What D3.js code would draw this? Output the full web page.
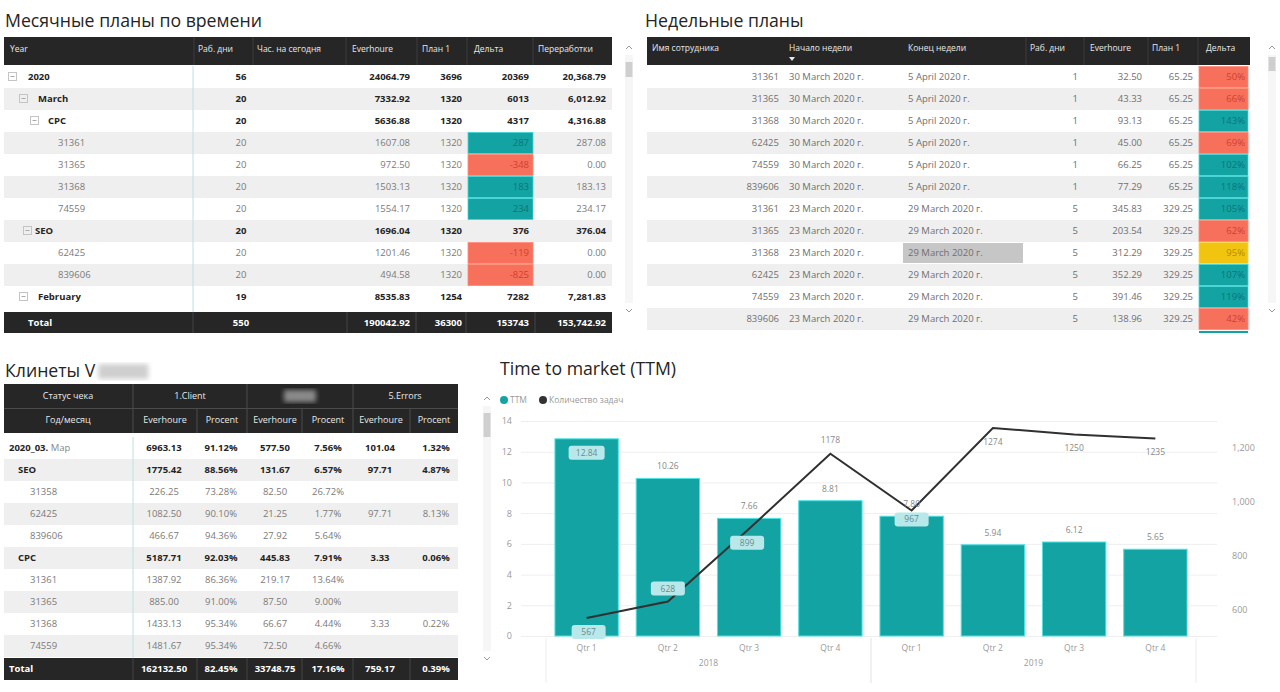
<!DOCTYPE html>
<html><head><meta charset="utf-8">
<script src="https://cdn.jsdelivr.net/npm/d3@7/dist/d3.min.js"></script>
<style>
body{margin:0;background:#fff;}
svg{display:block;font-family:"Open Sans","Noto Sans",sans-serif;}
</style></head><body>
<svg id="c" width="1280" height="692"></svg>
<script>
// ---------------- DATA ----------------
// Monthly plans table
const monthlyColumns = ["Year","Раб. дни","Час. на сегодня","Everhoure","План 1","Дельта","Переработки"];
const monthlyLabels  = ["2020","March","CPC","31361","31365","31368","74559","SEO","62425","839606","February"];
const monthlyLevels  = [0,1,2,3,3,3,3,2,3,3,1];
const monthlyDays    = [56,20,20,20,20,20,20,20,20,20,19];
const monthlyEver    = [24064.79,7332.92,5636.88,1607.08,972.50,1503.13,1554.17,1696.04,1201.46,494.58,8535.83];
const monthlyPlan    = [3696,1320,1320,1320,1320,1320,1320,1320,1320,1320,1254];
const monthlyDelta   = [20369,6013,4317,287,-348,183,234,376,-119,-825,7282];
const monthlyOver    = [20368.79,6012.92,4316.88,287.08,0,183.13,234.17,376.04,0,0,7281.83];
const monthlyTotal   = ["Total","550","","190042.92","36300","153743","153,742.92"];

// Weekly plans table
const weeklyColumns = ["Имя сотрудника","Начало недели","Конец недели","Раб. дни","Everhoure","План 1","Дельта"];
const weeklyIds   = ["31361","31365","31368","62425","74559","839606","31361","31365","31368","62425","74559","839606"];
const weeklyStart = ["30 March 2020 г.","30 March 2020 г.","30 March 2020 г.","30 March 2020 г.","30 March 2020 г.","30 March 2020 г.","23 March 2020 г.","23 March 2020 г.","23 March 2020 г.","23 March 2020 г.","23 March 2020 г.","23 March 2020 г."];
const weeklyEnd   = ["5 April 2020 г.","5 April 2020 г.","5 April 2020 г.","5 April 2020 г.","5 April 2020 г.","5 April 2020 г.","29 March 2020 г.","29 March 2020 г.","29 March 2020 г.","29 March 2020 г.","29 March 2020 г.","29 March 2020 г."];
const weeklyDays  = [1,1,1,1,1,1,5,5,5,5,5,5];
const weeklyEver  = [32.50,43.33,93.13,45.00,66.25,77.29,345.83,203.54,312.29,352.29,391.46,138.96];
const weeklyPlan  = [65.25,65.25,65.25,65.25,65.25,65.25,329.25,329.25,329.25,329.25,329.25,329.25];
const weeklyPct   = [50,66,143,69,102,118,105,62,95,107,119,42];

// Clients table
const clientGroups  = ["Статус чека","1.Client","","5.Errors"];
const clientColumns = ["Год/месяц","Everhoure","Procent","Everhoure","Procent","Everhoure","Procent"];
const clientLabels  = ["2020_03.","SEO","31358","62425","839606","CPC","31361","31365","31368","74559"];
const clientLevels  = [0,1,2,2,2,1,2,2,2,2];
const clientEver1 = [6963.13,1775.42,226.25,1082.50,466.67,5187.71,1387.92,885.00,1433.13,1481.67];
const clientPct1  = [91.12,88.56,73.28,90.10,94.36,92.03,86.36,91.00,95.34,95.34];
const clientEver2 = [577.50,131.67,82.50,21.25,27.92,445.83,219.17,87.50,66.67,72.50];
const clientPct2  = [7.56,6.57,26.72,1.77,5.64,7.91,13.64,9.00,4.44,4.66];
const clientEver3 = [101.04,97.71,null,97.71,null,3.33,null,null,3.33,null];
const clientPct3  = [1.32,4.87,null,8.13,null,0.06,null,null,0.22,null];
const clientTotal = ["Total","162132.50","82.45%","33748.75","17.16%","759.17","0.39%"];

// Time to market chart
const ttmQuarters = ["Qtr 1","Qtr 2","Qtr 3","Qtr 4","Qtr 1","Qtr 2","Qtr 3","Qtr 4"];
const ttmYears    = ["2018","2018","2018","2018","2019","2019","2019","2019"];
const ttmValues   = [12.84,10.26,7.66,8.81,7.80,5.94,6.12,5.65];
const taskCounts  = [567,628,899,1178,967,1274,1250,1235];
const leftTicks   = [0,2,4,6,8,10,12,14];
const rightTicks  = [600,800,1000,1200];

// ---------------- STYLE / LAYOUT ----------------
const DARK="#262626", GREY_ROW="#efefef", TEAL="#13a3a3", RED="#f6705c", YELLOW="#f1c40f";
const svg = d3.select("#c");
svg.append("rect").attr("width",1280).attr("height",692).attr("fill","#fff");
const defs = svg.append("defs");
defs.append("filter").attr("id","blur").append("feGaussianBlur").attr("stdDeviation",2.5);

function T(g,x,y,s,o={}){
  return g.append("text").attr("x",x).attr("y",y).attr("dy","0.35em")
    .attr("font-size",o.size||9.5).attr("font-weight",o.bold?"700":"400")
    .attr("fill",o.color||"#333").attr("text-anchor",o.anchor||"start").text(s);
}
function vline(g,x,y1,y2,c,w){g.append("line").attr("x1",x).attr("x2",x).attr("y1",y1).attr("y2",y2).attr("stroke",c).attr("stroke-width",w||1);}
function scrollbar(g,x,y1,y2,t1,t2){
  g.append("rect").attr("x",x-4).attr("y",y1+8).attr("width",8).attr("height",y2-y1-16).attr("fill","#f6f6f6");
  g.append("path").attr("d",`M${x-3},${y1+2}L${x},${y1-1}L${x+3},${y1+2}`).attr("fill","none").attr("stroke","#999");
  g.append("path").attr("d",`M${x-3},${y2-2}L${x},${y2+1}L${x+3},${y2-2}`).attr("fill","none").attr("stroke","#999");
  g.append("rect").attr("x",x-3.5).attr("y",t1).attr("width",7).attr("height",t2-t1).attr("fill","#cfcfcf");
}
function expander(g,x,y){
  g.append("rect").attr("x",x+0.5).attr("y",y-4.5).attr("width",8).attr("height",8).attr("fill","none").attr("stroke","#c4c4c4");
  g.append("line").attr("x1",x+2.5).attr("x2",x+6.5).attr("y1",y-0.5).attr("y2",y-0.5).attr("stroke","#aaa");
}
const f2 = d3.format(".2f"), fc2 = d3.format(",.2f");
const TITLE = 17.7;

// ---------------- TABLE 1: Monthly ----------------
{
  const g = svg.append("g");
  T(g,5,21,"Месячные планы по времени",{size:TITLE,color:"#252423"});
  const x0=4,x1=612;
  g.append("rect").attr("x",x0).attr("y",37).attr("width",x1-x0).attr("height",28).attr("fill",DARK);
  const headX=[10,198,257,352,422,474,538];
  monthlyColumns.forEach((c,i)=>T(g,headX[i],49,c,{size:8.5,color:"#e8e8e8"}));
  [194,253,346,417,467,533].forEach(x=>vline(g,x,37,65,"#3d3d3d"));
  const y = d3.scaleBand().domain(d3.range(monthlyLabels.length)).range([66,66+22*monthlyLabels.length]);
  const boxX=[8,19,30], txtX=[28,38,48,58];
  monthlyLabels.forEach((lab,i)=>{
    const yc=y(i)+y.bandwidth()/2, lvl=monthlyLevels[i], leaf=lvl===3;
    if(i%2===1) g.append("rect").attr("x",x0).attr("y",y(i)).attr("width",x1-x0).attr("height",y.bandwidth()).attr("fill",GREY_ROW);
    const col = leaf?"#7a7a7a":"#252423", b=!leaf;
    if(!leaf){ const bx = (lab==="SEO")?23:boxX[lvl]; expander(g,bx,yc); }
    T(g,(lab==="SEO")?35:txtX[lvl],yc,lab,{bold:b,color:col});
    T(g,241,yc,monthlyDays[i],{bold:b,color:col,anchor:"middle"});
    T(g,410,yc,f2(monthlyEver[i]),{bold:b,color:col,anchor:"end"});
    T(g,462,yc,monthlyPlan[i],{bold:b,color:col,anchor:"end"});
    if(leaf){
      const pos=monthlyDelta[i]>0;
      g.append("rect").attr("x",468).attr("y",y(i)+0.5).attr("width",65).attr("height",y.bandwidth()-1).attr("fill",pos?TEAL:RED)
        .attr("stroke",pos?"#3fd6d6":"#ff8a78").attr("stroke-width",0.8);
      T(g,529,yc,monthlyDelta[i],{color:pos?"#0b7477":"#d2402c",anchor:"end"});
    } else T(g,529,yc,monthlyDelta[i],{bold:b,color:col,anchor:"end"});
    T(g,606,yc,fc2(monthlyOver[i]),{bold:b,color:col,anchor:"end"});
  });
  vline(g,193,66,312,"#bfe0e0");
  g.append("rect").attr("x",x0).attr("y",312).attr("width",x1-x0).attr("height",21).attr("fill",DARK);
  [193,347,416,466,535].forEach(x=>vline(g,x,312,333,"#444"));
  const tx=[28,241,0,410,462,529,606], ta=["start","middle","end","end","end","end","end"];
  monthlyTotal.forEach((s,i)=>{ if(s) T(g,tx[i],322.5,s,{bold:true,color:"#fff",anchor:ta[i]}); });
  scrollbar(g,629,47,311,62,77);
}

// ---------------- TABLE 2: Weekly ----------------
{
  const g = svg.append("g");
  T(g,645,21,"Недельные планы",{size:TITLE,color:"#252423"});
  const x0=647,x1=1250;
  g.append("rect").attr("x",x0).attr("y",37).attr("width",x1-x0).attr("height",28).attr("fill",DARK);
  const headX=[652,789,908,1030,1090,1152,1206];
  weeklyColumns.forEach((c,i)=>T(g,headX[i],48,c,{size:8.5,color:"#e8e8e8"}));
  g.append("path").attr("d","M789,57L795,57L792,61Z").attr("fill","#e8e8e8");
  [1026,1084,1148,1198].forEach(x=>vline(g,x,37,65,"#3d3d3d"));
  const y = d3.scaleBand().domain(d3.range(weeklyIds.length)).range([66,66+22*weeklyIds.length]);
  weeklyIds.forEach((id,i)=>{
    const yc=y(i)+y.bandwidth()/2, col="#6f6f6f";
    if(i%2===1) g.append("rect").attr("x",x0).attr("y",y(i)).attr("width",x1-x0).attr("height",y.bandwidth()).attr("fill",GREY_ROW);
    if(i===8) g.append("rect").attr("x",903).attr("y",y(i)+1).attr("width",120).attr("height",y.bandwidth()-2).attr("fill","#c6c6c6");
    T(g,779,yc,id,{color:col,anchor:"end"});
    T(g,789,yc,weeklyStart[i],{color:col});
    T(g,908,yc,weeklyEnd[i],{color:col});
    T(g,1078,yc,weeklyDays[i],{color:col,anchor:"end"});
    T(g,1142,yc,f2(weeklyEver[i]),{color:col,anchor:"end"});
    T(g,1193,yc,f2(weeklyPlan[i]),{color:col,anchor:"end"});
    const p=weeklyPct[i], fill=p>=100?TEAL:(p>=90?YELLOW:RED), tc=p>=100?"#0b7477":(p>=90?"#b88a00":"#d2402c");
    g.append("rect").attr("x",1199).attr("y",y(i)+0.5).attr("width",49).attr("height",y.bandwidth()-1).attr("fill",fill)
      .attr("stroke",p>=100?"#3fd6d6":(p>=90?"#ffd84a":"#ff8a78")).attr("stroke-width",0.8);
    T(g,1245,yc,p+"%",{color:tc,anchor:"end"});
  });
  g.append("rect").attr("x",1199).attr("y",331).attr("width",49).attr("height",2).attr("fill",TEAL);
  scrollbar(g,1272,47,311,57,71);
}

// ---------------- TABLE 3: Clients ----------------
{
  const g = svg.append("g");
  const title = T(g,5,371,"Клинеты V",{size:TITLE,color:"#252423"});
  const tw = title.node().getComputedTextLength();
  g.append("rect").attr("x",5+tw+3).attr("y",364).attr("width",50).attr("height",15).attr("fill","#cfcfcf").attr("filter","url(#blur)");
  const x0=4,x1=458;
  g.append("rect").attr("x",x0).attr("y",384).attr("width",x1-x0).attr("height",49).attr("fill",DARK);
  g.append("line").attr("x1",x0).attr("x2",x1).attr("y1",408.5).attr("y2",408.5).attr("stroke","#4a4a4a");
  const gX=[68,190,300,405];
  clientGroups.forEach((c,i)=>{ if(c) T(g,gX[i],396,c,{size:9,color:"#e8e8e8",anchor:"middle"}); });
  g.append("rect").attr("x",284).attr("y",390).attr("width",32).attr("height",12).attr("fill","#8a8a8a").attr("filter","url(#blur)");
  [133,247,353].forEach(x=>vline(g,x,384,408,"#4a4a4a"));
  const cX=[68,165,222,275,328,381,434];
  clientColumns.forEach((c,i)=>T(g,cX[i],420,c,{size:9,color:"#e8e8e8",anchor:"middle"}));
  [133,197,247,302,353,410].forEach(x=>vline(g,x,409,433,"#4a4a4a"));
  const y = d3.scaleBand().domain(d3.range(clientLabels.length)).range([437,437+22*clientLabels.length]);
  const vX=[164,221,275,328,380,436];
  clientLabels.forEach((lab,i)=>{
    const yc=y(i)+y.bandwidth()/2, lvl=clientLevels[i], b=lvl<2, col=b?"#252423":"#7a7a7a";
    if(i%2===1) g.append("rect").attr("x",x0).attr("y",y(i)).attr("width",x1-x0).attr("height",y.bandwidth()).attr("fill",GREY_ROW);
    if(lvl===0){
      const t=T(g,9,yc,lab,{bold:true,color:col});
      t.append("tspan").attr("font-weight","400").attr("fill","#888").text(" Мар");
    } else T(g,lvl===1?18:30,yc,lab,{bold:b,color:col});
    const vals=[clientEver1[i],clientPct1[i],clientEver2[i],clientPct2[i],clientEver3[i],clientPct3[i]];
    vals.forEach((v,j)=>{ if(v!=null) T(g,vX[j],yc,j%2?f2(v)+"%":f2(v),{bold:b,color:col,anchor:"middle"}); });
  });
  vline(g,133,437,658,"#bfe0e0");
  g.append("rect").attr("x",x0).attr("y",658).attr("width",x1-x0).attr("height",22).attr("fill",DARK);
  [133,197,247,302,353,410].forEach(x=>vline(g,x,658,680,"#444"));
  clientTotal.forEach((s,i)=>T(g,i===0?9:vX[i-1],669,s,{bold:true,color:"#fff",anchor:i===0?"start":"middle"}));
  scrollbar(g,487,398,659,413,437);
}

// ---------------- CHART: Time to market ----------------
{
  const g = svg.append("g");
  T(g,500,369,"Time to market (TTM)",{size:TITLE,color:"#252423"});
  g.append("circle").attr("cx",504).attr("cy",400).attr("r",4).attr("fill",TEAL);
  T(g,510,400,"TTM",{size:8.5,color:"#999"});
  g.append("circle").attr("cx",543).attr("cy",400).attr("r",4).attr("fill","#333");
  T(g,549,400,"Количество задач",{size:8.5,color:"#999"});

  const x = d3.scaleBand().domain(d3.range(ttmValues.length)).range([546,1196]).paddingInner(0.22).paddingOuter(0.11);
  const yL = d3.scaleLinear().domain([0,14]).range([636,421]);
  const yR = d3.scaleLinear().domain([500,1300]).range([636,421]);

  // gridlines
  g.append("g").attr("transform","translate(521,0)")
    .call(d3.axisLeft(yL).tickValues(leftTicks).tickSize(-696).tickFormat(""))
    .call(a=>{a.select(".domain").remove();a.selectAll("line").attr("stroke","#eeeeee");});
  // left axis labels
  g.append("g").attr("transform","translate(518,0)")
    .call(d3.axisLeft(yL).tickValues(leftTicks).tickSize(0).tickPadding(6))
    .call(a=>{a.select(".domain").remove();a.selectAll("text").attr("fill","#9a9a9a").attr("font-size",9).attr("font-family","Open Sans");});
  // right axis labels
  g.append("g").attr("transform","translate(1226,0)")
    .call(d3.axisRight(yR).tickValues(rightTicks).tickSize(0).tickPadding(6).tickFormat(d3.format(",")))
    .call(a=>{a.select(".domain").remove();a.selectAll("text").attr("fill","#9a9a9a").attr("font-size",9).attr("font-family","Open Sans");});

  // bars
  g.selectAll(".bar").data(ttmValues).join("rect").attr("class","bar")
    .attr("x",(d,i)=>x(i)).attr("width",x.bandwidth())
    .attr("y",d=>yL(d)).attr("height",d=>yL(0)-yL(d))
    .attr("fill",TEAL).attr("stroke","#4fe3e3").attr("stroke-width",1);

  // line
  const line = d3.line().x((d,i)=>x(i)+x.bandwidth()/2).y(d=>yR(d));
  g.append("path").datum(taskCounts).attr("d",line).attr("fill","none").attr("stroke","#303030").attr("stroke-width",2);

  // bar labels
  const barLabelPos = ["inside","above","above","above","above","above","above","above"];
  ttmValues.forEach((v,i)=>{
    const cx=x(i)+x.bandwidth()/2;
    if(barLabelPos[i]==="inside"){
      g.append("rect").attr("x",cx-18).attr("y",yL(v)+7).attr("width",36).attr("height",14).attr("rx",3).attr("fill","#b9e8ea");
      T(g,cx,yL(v)+14,f2(v),{size:8.5,color:"#6a8a8c",anchor:"middle"});
    } else T(g,cx,yL(v)-12,f2(v),{size:8.5,color:"#888",anchor:"middle"});
  });
  // line labels
  const lineLabelPos = ["boxBelow","boxAbove","boxBelow","above","boxBelow","below","below","below"];
  const lineLabelDx  = [2,0,-2,0,0,0,0,0];
  taskCounts.forEach((v,i)=>{
    const cx=x(i)+x.bandwidth()/2+lineLabelDx[i], py=yR(v), pos=lineLabelPos[i];
    if(pos.startsWith("box")){
      const ly = pos==="boxBelow"? py+(i===4?9:14) : py-13;
      g.append("rect").attr("x",cx-17).attr("y",ly-7).attr("width",34).attr("height",14).attr("rx",3).attr("fill","#b9e8ea");
      T(g,cx,ly,v,{size:8.5,color:"#6a8a8c",anchor:"middle"});
    } else if(pos==="above") T(g,cx,py-14,v,{size:8.5,color:"#888",anchor:"middle"});
    else T(g,cx,py+14,v,{size:8.5,color:"#888",anchor:"middle"});
  });

  // x axis
  ttmQuarters.forEach((q,i)=>T(g,x(i)+x.bandwidth()/2,648,q,{size:8.5,color:"#9a9a9a",anchor:"middle"}));
  const years = Array.from(new Set(ttmYears));
  years.forEach(yr=>{
    const idx = ttmYears.map((d,i)=>d===yr?i:-1).filter(i=>i>=0);
    const a = x(idx[0]) - x.step()*x.paddingInner()/2, b = x(idx[idx.length-1]) + x.bandwidth() + x.step()*x.paddingInner()/2;
    T(g,(a+b)/2,663,yr,{size:8.5,color:"#9a9a9a",anchor:"middle"});
    vline(g,a,638,683,"#ececec");
    vline(g,b,638,683,"#ececec");
  });
}
</script>
</body></html>
